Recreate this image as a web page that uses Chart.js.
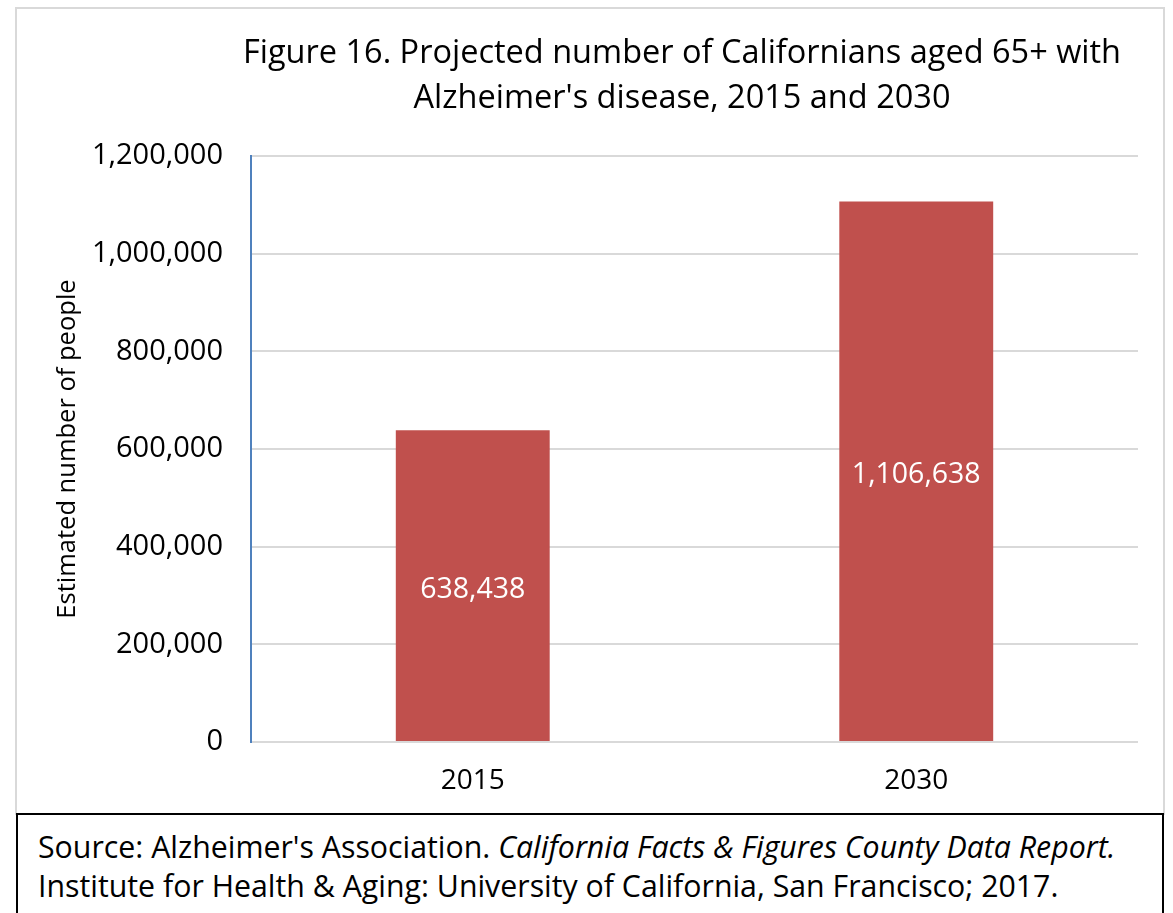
<!DOCTYPE html>
<html>
<head>
<meta charset="utf-8">
<script src="https://cdn.jsdelivr.net/npm/chart.js@4/dist/chart.umd.min.js"></script>
<style>
  html, body { margin: 0; padding: 0; background: #fff; }
  body { width: 1173px; height: 913px; position: relative; overflow: hidden; font-family: "Open Sans", sans-serif; }
  #frame { position: absolute; left: 15px; top: 7px; width: 1150px; height: 808px; border: 2px solid #d9d9d9; box-sizing: border-box; }
  #wrap { position: absolute; left: 0; top: 0; width: 1173px; height: 813px; }
  #title { position: absolute; left: 182px; width: 1000px; top: 28px; text-align: center; font-size: 32.5px; line-height: 45px; color: #000; white-space: nowrap; }
  #source { position: absolute; left: 16px; top: 813px; width: 1148px; height: 120px; border: 2px solid #000; box-sizing: border-box; padding: 12px 0 0 20px; font-size: 30.3px; line-height: 39px; color: #000; background: #fff; white-space: nowrap; }
</style>
</head>
<body>
<div id="frame"></div>
<div id="wrap"><canvas id="c" width="1173" height="813"></canvas></div>
<div id="title">Figure 16. Projected number of Californians aged 65+ with<br>Alzheimer's disease, 2015 and 2030</div>
<div id="source">Source: Alzheimer's Association. <i>California Facts &amp; Figures County Data Report.</i><br>Institute for Health &amp; Aging: University of California, San Francisco; 2017.</div>
<script>
const categories = ["2015", "2030"];
const people = [638438, 1106638];
const yTicks = [0, 200000, 400000, 600000, 800000, 1000000, 1200000];

const fmt = v => v.toLocaleString("en-US");

const barLabels = {
  id: "barLabels",
  afterDatasetsDraw(chart) {
    const ctx = chart.ctx;
    const meta = chart.getDatasetMeta(0);
    ctx.save();
    ctx.fillStyle = "#ffffff";
    ctx.font = "28.5px 'Open Sans'";
    ctx.textAlign = "center";
    ctx.textBaseline = "middle";
    meta.data.forEach((bar, i) => {
      ctx.fillText(fmt(people[i]), bar.x, (bar.y + bar.base) / 2 + 4);
    });
    ctx.restore();
  }
};

new Chart(document.getElementById("c"), {
  type: "bar",
  data: {
    labels: categories,
    datasets: [{
      data: people,
      backgroundColor: "#C0504D",
      borderWidth: 0,
      categoryPercentage: 1.0,
      barPercentage: 0.347
    }]
  },
  options: {
    responsive: false,
    animation: false,
    layout: { padding: { top: 156, right: 35, bottom: 0, left: 0 } },
    plugins: { legend: { display: false }, tooltip: { enabled: false }, title: { display: false } },
    scales: {
      x: {
        grid: { display: false, drawTicks: false },
        border: { display: false },
        ticks: { color: "#000", font: { family: "Open Sans", size: 28 }, padding: 22 },
        afterFit(scale) { scale.height = 71; }
      },
      y: {
        min: 0, max: 1200000,
        afterBuildTicks(scale) { scale.ticks = yTicks.map(v => ({ value: v })); },
        grid: { color: "#d9d9d9", lineWidth: 2, drawTicks: false },
        border: { display: true, color: "#4F81BD", width: 2 },
        ticks: { color: "#000", font: { family: "Open Sans", size: 29 }, padding: 28, callback: v => fmt(v) },
        title: { display: true, text: "Estimated number of people", color: "#000", font: { family: "Open Sans", size: 25.5 }, padding: { top: 52, bottom: 0 } },
        afterFit(scale) { scale.width = 251; }
      }
    }
  },
  plugins: [barLabels]
});
</script>
</body>
</html>
